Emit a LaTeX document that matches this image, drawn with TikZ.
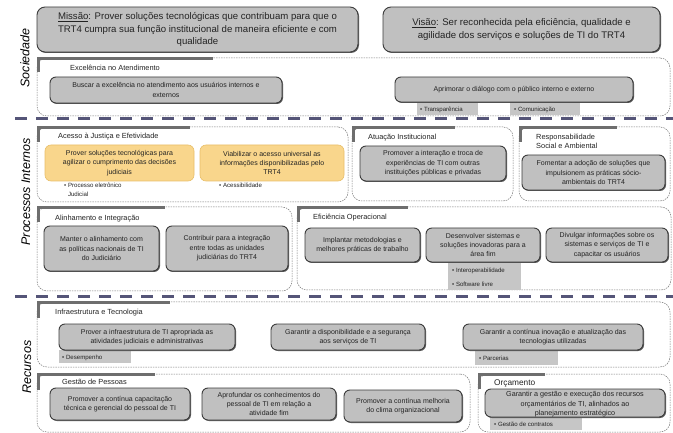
\documentclass[tikz,border=0pt]{standalone}
\usepackage{fontspec}
\setmainfont{Liberation Sans}
\usetikzlibrary{shadows}
\definecolor{boxfill}{RGB}{192,192,192}
\definecolor{boxline}{RGB}{60,60,60}
\definecolor{shadowc}{RGB}{90,90,90}
\definecolor{tabfill}{RGB}{198,198,198}
\definecolor{txt}{RGB}{35,35,35}
\definecolor{grpline}{RGB}{120,120,120}
\definecolor{brk}{RGB}{110,110,110}
\definecolor{sepc}{RGB}{85,85,120}
\definecolor{yfill}{RGB}{249,214,140}
\definecolor{yline}{RGB}{232,190,105}
\newcommand\boxfont{\fontsize{7}{9.4}\selectfont}
\newcommand\bigfont{\fontsize{9.6}{12.3}\selectfont}
\newcommand\titfont{\fontsize{7.4}{9.5}\selectfont}
\newcommand\tabfont{\fontsize{6.1}{8.5}\selectfont}
\newcommand\mybox[7][]{%
  \node[#1, minimum width={(#5-#3)*1pt}, minimum height={(#6-#4)*1pt}] (#2) at ({(#3+#5)/2},{(#4+#6)/2}) {#7};}
\newcommand\mygroup[7]{% name x1 y1 x2 y2 bracketx brackety
  \mybox[grp]{#1}{#2}{#3}{#4}{#5}{}
  \draw[brkline] (#2+1,#7) -- (#2+1,#3+0.5) -- (#6,#3+0.5);}
\tikzset{
  gbox/.style={draw=boxline, fill=boxfill, line width=0.9pt, rounded corners=6pt,
    drop shadow={shadow xshift=1pt, shadow yshift=-1pt, opacity=1, fill=shadowc},
    inner sep=0pt, align=center, font=\boxfont, text=txt},
  bigbox/.style={gbox, rounded corners=8pt, font=\bigfont},
  ybox/.style={draw=yline, fill=yfill, line width=0.6pt, rounded corners=6pt,
    inner sep=0pt, align=center, font=\boxfont, text=txt},
  tabbox/.style={fill=tabfill, inner sep=0pt},
  tabtext/.style={font=\tabfont, text=txt, align=left, inner sep=0pt, anchor=west},
  grp/.style={draw=grpline, dash pattern=on 1.5pt off 1pt, line width=0.5pt, rounded corners=10pt, inner sep=0pt},
  brkline/.style={draw=brk, line width=3pt},
  gtitle/.style={font=\titfont, text=txt, anchor=west, inner sep=0pt, align=left},
  seclabel/.style={font=\fontsize{12.5}{14}\selectfont\itshape, rotate=90, inner sep=0pt},
  sep/.style={draw=sepc, line width=3pt, dash pattern=on 12pt off 9pt},
}
\begin{document}
\begin{tikzpicture}[x=1pt, y=-1pt]
\useasboundingbox (0,0) rectangle (673,433);
% section labels
\node[seclabel] (lsoc) at (25,58) {Sociedade};
\node[seclabel] (lproc) at (26,192) {Processos Internos};
\node[seclabel] (lrec) at (27,367) {Recursos};
% separators
\draw[sep] (15,119) -- (673,119);
\draw[sep] (15,297) -- (673,297);
% mission / vision
\mybox[bigbox]{missao}{37}{7}{358}{52}{\underline{Missão}: Prover soluções tecnológicas que contribuam para que o\\TRT4 cumpra sua função institucional de maneira eficiente e com\\qualidade}
\mybox[bigbox]{visao}{383}{7}{660}{52}{\underline{Visão}: Ser reconhecida pela eficiência, qualidade e\\agilidade dos serviços e soluções de TI do TRT4}
% Sociedade group
\mygroup{gsoc}{37}{58}{670}{116}{213}{72}
\node[gtitle] (tsoc) at (70,68) {Excelência no Atendimento};
\mybox[gbox]{b1}{50}{77}{282}{103}{Buscar a excelência no atendimento aos usuários internos e\\externos}
\mybox[tabbox]{t1}{417}{102}{478}{115}{}
\mybox[tabbox]{t2}{510}{102}{580}{115}{}
\mybox[gbox]{b2}{395}{77}{633}{102}{Aprimorar o diálogo com o público interno e externo}
\node[tabtext] (tt1) at (420,109.5) {• Transparência};
\node[tabtext] (tt2) at (514,109.5) {• Comunicação};
% Processos internos row 1
\mygroup{ga}{37}{127}{348}{202}{190}{142}
\node[gtitle] (ta) at (58,137) {Acesso à Justiça e Efetividade};
\mybox[ybox]{y1}{45}{145}{194}{181}{Prover soluções tecnológicas para\\agilizar o cumprimento das decisões\\judiciais}
\mybox[ybox]{y2}{200}{145}{344}{181}{Viabilizar o acesso universal as\\informações disponibilizadas pelo\\TRT4}
\node[tabtext, anchor=north west] (ty1) at (64,183) {• Processo eletrônico\\\hphantom{• }Judicial};
\node[tabtext, anchor=north west] (ty2) at (219,183) {• Acessibilidade};
\mygroup{gb}{352}{127}{513}{201}{455}{142}
\node[gtitle] (tb) at (368,138) {Atuação Institucional};
\mybox[gbox]{bb}{360}{146}{506}{181}{Promover a interação e troca de\\experiências de TI com outras\\instituições públicas e privadas}
\mybox[grp]{gc}{519}{127}{670}{201}{}
\draw[brkline] (520,142) -- (520,127.5) -- (617,127.5);
\node[gtitle] (tc) at (536,141.5) {Responsabilidade\\Social e Ambiental};
\mybox[gbox]{bc}{522}{155}{665}{190}{Fomentar a adoção de soluções que\\impulsionem as práticas sócio-\\ambientais do TRT4}
% Processos internos row 2
\mygroup{gd}{37}{207}{292}{291}{165}{222}
\node[gtitle] (td) at (55,219) {Alinhamento e Integração};
\mybox[gbox]{d1}{44}{226}{159}{271}{Manter o alinhamento com\\as políticas nacionais de TI\\do Judiciário}
\mybox[gbox]{d2}{166}{226}{288}{271}{Contribuir para a integração\\entre todas as unidades\\judiciárias do TRT4}
\mygroup{ge}{297}{207}{671}{290}{408}{222}
\node[gtitle] (te) at (313,218) {Eficiência Operacional};
\mybox[tabbox]{te2}{448}{262}{521}{290}{}
\mybox[gbox]{e1}{305}{228}{420}{262}{Implantar metodologias e\\melhores práticas de trabalho}
\mybox[gbox]{e2}{426}{228}{540}{262}{Desenvolver sistemas e\\soluções inovadoras para a\\área fim}
\mybox[gbox]{e3}{546}{228}{668}{262}{Divulgar informações sobre os\\sistemas e serviços de TI e\\capacitar os usuários}
\node[tabtext] (tte1) at (452,271) {• Interoperabilidade};
\node[tabtext] (tte2) at (452,284) {• Software livre};
% Recursos
\mygroup{gf}{37}{302}{670}{367}{170}{318}
\node[gtitle] (tf) at (55,313) {Infraestrutura e Tecnologia};
\mybox[tabbox]{tf1}{59}{350}{131}{363}{}
\mybox[tabbox]{tf3}{475}{350}{558}{365}{}
\mybox[gbox]{f1}{59}{324}{235}{350}{Prover a infraestrutura de TI apropriada as\\atividades judiciais e administrativas}
\mybox[gbox]{f2}{271}{324}{425}{350}{Garantir a disponibilidade e a segurança\\aos serviços de TI}
\mybox[gbox]{f3}{463}{324}{643}{350}{Garantir a contínua inovação e atualização das\\tecnologias utilizadas}
\node[tabtext] (ttf1) at (62,357.5) {• Desempenho};
\node[tabtext] (ttf3) at (479,358.5) {• Parcerias};
\mygroup{gg}{37}{374}{470}{432}{155}{390}
\node[gtitle] (tg) at (62,382) {Gestão de Pessoas};
\mybox[gbox]{g1}{50}{388}{190}{420}{Promover a contínua capacitação\\técnica e gerencial do pessoal de TI}
\mybox[gbox]{g2}{202}{388}{336}{420}{Aprofundar os conhecimentos do\\pessoal de TI em relação a\\atividade fim}
\mybox[gbox]{g3}{344}{390}{462}{422}{Promover a contínua melhoria\\do clima organizacional}
\mygroup{gh}{478}{374}{670}{432}{545}{389}
\node[gtitle, font=\fontsize{8.3}{10}\selectfont] (th) at (494,383) {Orçamento};
\mybox[tabbox]{th1}{490}{417}{582}{430}{}
\mybox[gbox]{h1}{485}{389}{665}{417}{}
\node[font=\fontsize{7.2}{9.5}\selectfont, text=txt, align=center, inner sep=0pt] (h1t) at (575,404.5) {Garantir a gestão e execução dos recursos\\orçamentários de TI, alinhados ao\\planejamento estratégico};
\node[tabtext] (tth1) at (494,424) {• Gestão de contratos};
\end{tikzpicture}
\end{document}
